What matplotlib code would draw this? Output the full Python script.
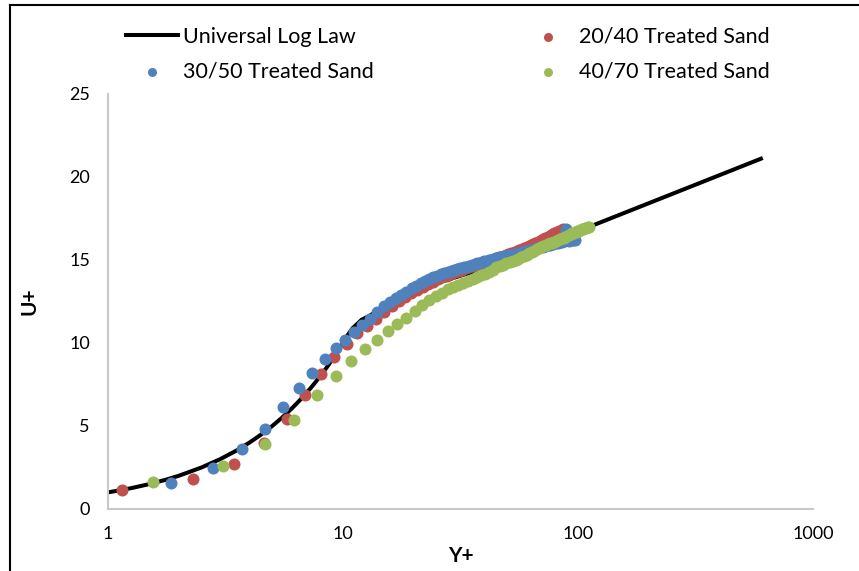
import matplotlib
matplotlib.use('Agg')
from matplotlib import pyplot as plt
from matplotlib.lines import Line2D

plt.rcParams['font.family'] = ['Lato', 'DejaVu Sans']

# universal log law
law_y = [1, 1.25, 1.5, 1.75, 2, 2.5, 3, 3.5, 4, 4.5, 5, 5.5, 6, 6.5, 7, 7.5,
         8, 8.5, 9, 9.5, 10, 10.5, 11, 11.5, 12, 13, 15, 17.5, 20, 23.5, 27, 30,
         35, 40, 50, 100, 200, 400, 600]
law_u = [1, 1.25, 1.5, 1.75, 2, 2.5, 3, 3.5, 4, 4.5, 5, 5.5, 6, 6.5, 7, 7.5,
         8, 8.5, 9, 9.5, 10, 10.5, 10.9, 11.15, 11.4, 11.65, 12.2, 12.75, 13.15,
         13.45, 13.75, 13.95, 14.25, 14.55, 15.04, 16.73, 18.42, 20.11, 21.1]

# 20/40 treated sand
red_y = [1.15, 2.3, 3.45, 4.6, 5.75, 6.9, 8.05, 9.2, 10.35, 11.5, 12.65, 13.8,
         14.95, 16.1, 17.25, 18.4, 19.55, 20.7, 21.85, 23.0, 24.15, 25.3, 26.45,
         27.6, 28.75, 29.9, 31.05, 32.2, 33.35, 34.5, 35.65, 36.8, 37.95, 39.1,
         40.25, 41.4, 42.55, 43.7, 44.85, 46.0, 47.15, 48.3, 49.45, 50.6, 51.75,
         52.9, 54.05, 55.2, 56.35, 57.5, 58.65, 59.8, 60.95, 62.1, 63.25, 64.4,
         65.55, 66.7, 67.85, 69.0, 70.15, 71.3, 72.45, 73.6, 74.75, 75.9, 77.05,
         78.2, 79.35, 80.5, 81.65, 82.8, 83.95, 85.1, 86.25]
red_u = [1.16, 1.78, 2.69, 3.97, 5.41, 6.85, 8.13, 9.17, 9.92, 10.58, 11.0, 11.45,
         11.85, 12.2, 12.5, 12.75, 13.0, 13.2, 13.4, 13.55, 13.7, 13.85, 13.95,
         14.05, 14.15, 14.25, 14.35, 14.42, 14.5, 14.57, 14.63, 14.7, 14.76, 14.82,
         14.88, 14.94, 15.0, 15.05, 15.1, 15.15, 15.2, 15.25, 15.3, 15.35, 15.4,
         15.45, 15.5, 15.55, 15.6, 15.65, 15.7, 15.75, 15.8, 15.85, 15.9, 15.95,
         16.0, 16.05, 16.1, 16.15, 16.2, 16.25, 16.3, 16.35, 16.4, 16.45, 16.5,
         16.55, 16.6, 16.64, 16.68, 16.72, 16.76, 16.8, 16.85]

# 30/50 treated sand
blue_y = [1.85, 2.8, 3.7, 4.64, 5.55, 6.49, 7.39, 8.37, 9.32, 10.2, 11.15, 12.1,
          13.0, 14.0, 14.9, 15.8, 16.8, 17.7, 18.6, 19.6, 20.5, 21.4, 22.3, 23.3,
          24.2, 25.1, 26.1, 27.0, 27.9, 28.9, 29.8, 30.7, 31.6, 32.6, 33.5, 34.4,
          35.3, 36.3, 37.2, 38.1, 39.1, 40.0, 40.9, 41.9, 42.8, 43.7, 44.6, 46.5,
          48.4, 50.2, 52.1, 53.9, 55.8, 57.7, 59.5, 61.4, 63.2, 65.1, 67.0, 68.8,
          70.7, 72.5, 74.4, 76.3, 78.1, 80.0, 81.8, 83.7, 85.6, 87.4, 89.3, 91.1,
          93.0, 94.9, 96.7]
blue_u = [1.56, 2.46, 3.6, 4.83, 6.15, 7.29, 8.21, 9.05, 9.69, 10.2, 10.68, 11.1,
          11.45, 11.85, 12.2, 12.45, 12.7, 12.9, 13.1, 13.3, 13.45, 13.6, 13.72,
          13.85, 13.95, 14.05, 14.13, 14.2, 14.27, 14.33, 14.4, 14.45, 14.5, 14.55,
          14.6, 14.65, 14.7, 14.75, 14.8, 14.84, 14.88, 14.92, 14.95, 14.99, 15.02,
          15.06, 15.1, 15.15, 15.22, 15.28, 15.33, 15.38, 15.43, 15.48, 15.52,
          15.57, 15.62, 15.67, 15.72, 15.76, 15.8, 15.84, 15.88, 15.92, 15.96,
          16.0, 16.03, 16.06, 16.09, 16.12, 16.85, 16.15, 16.18, 16.2, 16.22]

# 40/70 treated sand
green_y = [1.55, 3.1, 4.65, 6.2, 7.75, 9.3, 10.85, 12.4, 13.95, 15.5, 17.05, 18.6,
           20.15, 21.7, 23.25, 24.8, 26.35, 27.9, 29.45, 31.0, 32.55, 34.1, 35.65,
           37.2, 38.75, 40.3, 41.85, 43.4, 44.95, 46.5, 48.05, 49.6, 51.15, 52.7,
           54.25, 55.8, 57.35, 58.9, 60.45, 62.0, 63.55, 65.1, 66.65, 68.2, 69.75,
           71.3, 72.85, 74.4, 75.95, 77.5, 79.05, 80.6, 82.15, 83.7, 85.25, 86.8,
           88.35, 89.9, 91.45, 93.0, 94.55, 96.1, 97.65, 99.2, 100.75, 102.3,
           103.85, 105.4, 106.95, 108.5, 110.05, 111.6]
green_u = [1.6, 2.56, 3.9, 5.39, 6.85, 7.99, 8.93, 9.62, 10.2, 10.7, 11.16, 11.52,
           11.9, 12.28, 12.58, 12.83, 13.04, 13.23, 13.38, 13.5, 13.6, 13.72, 13.84,
           13.96, 14.07, 14.18, 14.3, 14.42, 14.55, 14.64, 14.72, 14.8, 14.87,
           14.94, 15.0, 15.08, 15.15, 15.24, 15.33, 15.42, 15.5, 15.57, 15.64, 15.7,
           15.76, 15.82, 15.88, 15.94, 16.0, 16.05, 16.1, 16.15, 16.2, 16.25, 16.3,
           16.35, 16.4, 16.45, 16.5, 16.55, 16.6, 16.64, 16.68, 16.72, 16.76, 16.8,
           16.84, 16.87, 16.9, 16.94, 16.97, 17.0]

x_ticks = [1, 10, 100, 1000]
y_ticks = [0, 5, 10, 15, 20, 25]


def main():
    fig = plt.figure(figsize=(8.59, 5.71), dpi=100)
    ax = fig.add_axes([0.1257, 0.1086, 0.8208, 0.7268])

    ax.plot(law_y, law_u, color='black', linewidth=2.9, label='Universal Log Law', zorder=1)
    ax.scatter(red_y, red_u, s=75, color='#C0504D', linewidths=0, label='20/40 Treated Sand', zorder=2)
    ax.scatter(blue_y, blue_u, s=75, color='#4F81BD', linewidths=0, label='30/50 Treated Sand', zorder=3)
    ax.scatter(green_y, green_u, s=75, color='#9BBB59', linewidths=0, label='40/70 Treated Sand', zorder=4)

    ax.set_xscale('log')
    ax.set_xlim(1, 1000)
    ax.set_ylim(0, 25)
    ax.set_xticks(x_ticks)
    ax.set_xticklabels([str(v) for v in x_ticks])
    ax.set_yticks(y_ticks)
    ax.minorticks_off()
    ax.tick_params(length=0, labelsize=13, colors='#000000')
    ax.tick_params(axis='y', pad=13)
    ax.tick_params(axis='x', pad=12)
    for side in ['top', 'right']:
        ax.spines[side].set_visible(False)
    for side in ['left', 'bottom']:
        ax.spines[side].set_color('#C8C8C8')
        ax.spines[side].set_linewidth(1.5)

    ax.set_xlabel('Y+', fontsize=15, fontweight='bold', labelpad=3)
    ax.set_ylabel('U+', fontsize=15, fontweight='bold', labelpad=21)

    # legend in two columns above the plot
    h, l = ax.get_legend_handles_labels()
    order = [0, 2, 1, 3]
    fig.legend([h[i] for i in order], [l[i] for i in order], ncol=2,
               loc='upper left', bbox_to_anchor=(0.124, 0.987), frameon=False,
               fontsize=15.5, handlelength=2.4, handletextpad=0.25,
               columnspacing=6.9, labelspacing=0.68, markerscale=0.75)

    # outer chart border (partly cropped in reference)
    fig.add_artist(Line2D([0.012, 0.012], [0, 0.991], color='black', linewidth=1.5, transform=fig.transFigure))
    fig.add_artist(Line2D([0.012, 1.0], [0.991, 0.991], color='black', linewidth=1.5, transform=fig.transFigure))

    fig.savefig('out.png', dpi=100)


if __name__ == '__main__':
    main()
